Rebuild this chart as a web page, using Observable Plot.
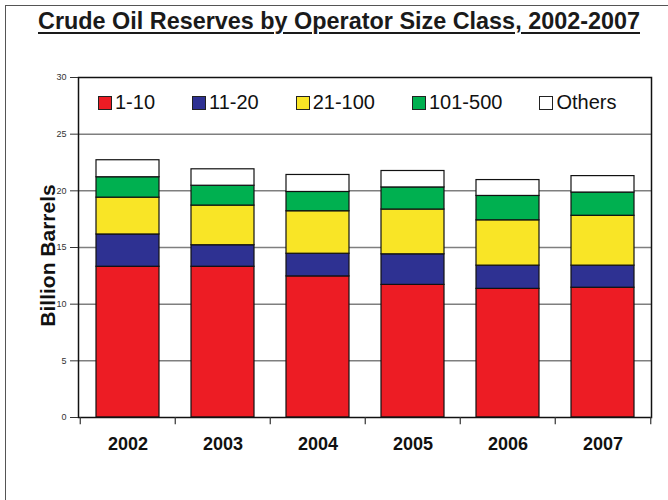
<!DOCTYPE html>
<html>
<head>
<meta charset="utf-8">
<script src="https://cdn.jsdelivr.net/npm/d3@7"></script>
<script src="https://cdn.jsdelivr.net/npm/@observablehq/plot@0.6"></script>
<style>
  html, body { margin: 0; padding: 0; background: #fff; }
  body { width: 668px; height: 500px; position: relative; overflow: hidden; font-family: "Liberation Sans", Arial, sans-serif; }
  #border { position: absolute; left: 5px; top: 5px; width: 800px; height: 800px; border-left: 1.5px solid #555; border-top: 1.5px solid #555; pointer-events: none; }
  #title { height: 45px; position: relative; }
  #title span { position: absolute; left: 38px; top: 7px; white-space: nowrap; font-family: "Liberation Sans Narrow", "Arial Narrow", "Liberation Sans", Arial, sans-serif; font-weight: bold; font-size: 24px; color: #1a1a1a; text-decoration: underline; text-decoration-thickness: 2px; text-underline-offset: 3px; transform-origin: 0 0; }
  #legend { position: absolute; left: 98px; top: 91px; display: flex; gap: 37px; align-items: center; font-size: 20px; color: #111; }
  #legend .item { display: flex; align-items: center; gap: 3px; }
  #legend .sw { width: 12px; height: 12px; border: 1px solid #222; }
</style>
</head>
<body>
<div id="border"></div>
<div id="title"><span id="ttext">Crude Oil Reserves by Operator Size Class, 2002-2007</span></div>
<div id="chart"></div>
<div id="legend"></div>
<script>
const years = ["2002", "2003", "2004", "2005", "2006", "2007"];
const seriesNames = ["1-10", "11-20", "21-100", "101-500", "Others"];
const seriesColors = ["#ED1C24", "#2E3192", "#F9E526", "#00B050", "#FFFFFF"];
const s1_10    = [13.3, 13.3, 12.45, 11.7, 11.35, 11.45];
const s11_20   = [2.85, 1.9, 2.0, 2.7, 2.05, 1.95];
const s21_100  = [3.25, 3.5, 3.75, 3.95, 4.0, 4.4];
const s101_500 = [1.8, 1.75, 1.7, 1.95, 2.15, 2.05];
const sOthers  = [1.5, 1.45, 1.5, 1.45, 1.4, 1.45];
const yTicks = [0, 5, 10, 15, 20, 25, 30];
const gridTicks = [5, 10, 15, 20, 25];

const seriesValues = [s1_10, s11_20, s21_100, s101_500, sOthers];
const rows = [];
seriesNames.forEach((name, i) => {
  years.forEach((yr, j) => rows.push({year: yr, series: name, value: seriesValues[i][j]}));
});

const W = 668, H = 455;
const mL = 78, mR = 17, mT = 32, mB = 83;
const step = (W - mL - mR) / years.length;

const chart = Plot.plot({
  width: W,
  height: H,
  marginLeft: mL,
  marginRight: mR,
  marginTop: mT,
  marginBottom: mB,
  style: {fontFamily: "'Liberation Sans', Arial, sans-serif", background: "transparent", overflow: "visible"},
  x: {domain: years, paddingInner: 0.34, paddingOuter: 0.17, axis: null},
  y: {domain: [0, 30], axis: null},
  color: {domain: seriesNames, range: seriesColors},
  marks: [
    Plot.ruleY(gridTicks, {stroke: "#7f7f7f", strokeWidth: 1.5}),
    Plot.barY(rows, Plot.stackY({x: "year", y: "value", z: "series", fill: "series", order: seriesNames, stroke: "#111", strokeWidth: 1.2})),
    Plot.frame({stroke: "#111", strokeWidth: 1.5}),
    Plot.axisY({ticks: yTicks, tickSize: 8, tickPadding: 4, fontSize: 9, color: "#333", label: null}),
    Plot.axisX({tickSize: 0, tickPadding: 20, fontSize: 18, fontWeight: "bold", color: "#111", label: null}),
    Plot.ruleX(years, {x: d => d, dx: -step / 2, y1: 0, y2: -0.65, stroke: "#333", strokeWidth: 1.2}),
    Plot.ruleX(years.slice(-1), {x: d => d, dx: step / 2, y1: 0, y2: -0.65, stroke: "#333", strokeWidth: 1.2}),
    Plot.text(["Billion Barrels"], {frameAnchor: "left", textAnchor: "middle", rotate: -90, dx: -30, dy: 8, fontSize: 21, fontWeight: "bold", fill: "#111"})
  ]
});
document.getElementById("chart").appendChild(chart);

// legend
const legend = document.getElementById("legend");
seriesNames.forEach((name, i) => {
  const item = document.createElement("div");
  item.className = "item";
  const sw = document.createElement("div");
  sw.className = "sw";
  sw.style.background = seriesColors[i];
  const t = document.createElement("span");
  t.textContent = name;
  item.appendChild(sw);
  item.appendChild(t);
  legend.appendChild(item);
});

// fit title width
const tt = document.getElementById("ttext");
const w = tt.getBoundingClientRect().width;
tt.style.transform = `scaleX(${602 / w})`;
</script>
</body>
</html>
